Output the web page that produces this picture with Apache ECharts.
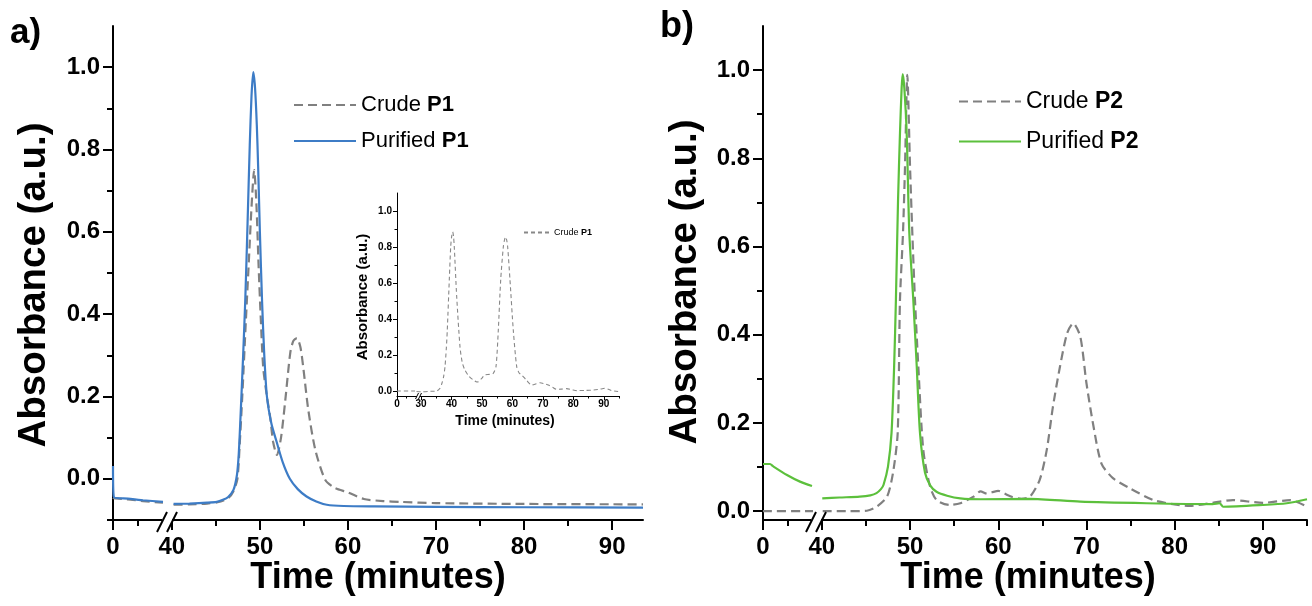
<!DOCTYPE html>
<html>
<head>
<meta charset="utf-8">
<script src="https://cdn.jsdelivr.net/npm/echarts@6.0.0/dist/echarts.min.js"></script>
<style>html,body{margin:0;padding:0;background:#fff}#c{width:1312px;height:606px}</style>
</head>
<body>
<div id="c"></div>
<script>
// ---------------- DATA (time in minutes, absorbance in a.u.) ----------------
const crudeP1 = [[0,-0.046],[0.08,-0.047],[1.5,-0.05],[3,-0.054],[5,-0.058],
 [40.2,-0.063],[42,-0.062],[44,-0.06],[45.2,-0.057],[46.4,-0.047],[47.0,-0.03],[47.45,0.0],[47.7,0.08],[48.0,0.2],[48.4,0.38],[48.75,0.53],[49.05,0.66],[49.35,0.75],[49.6,0.67],[49.85,0.52],[50.1,0.39],[50.38,0.27],[50.8,0.2],[51.17,0.15],[51.5,0.09],[51.94,0.058],[52.4,0.1],[52.88,0.19],[53.45,0.306],[53.8,0.335],[54.2,0.342],[54.6,0.32],[54.93,0.27],[55.5,0.167],[56.3,0.07],[57.43,-0.003],[58.5,-0.022],[60,-0.033],[61.8,-0.049],[64,-0.054],[66,-0.056],[70,-0.059],[80,-0.061],[93.5,-0.062]];
const purifiedP1 = [[0,0.031],[0.08,-0.044],[1.5,-0.048],[3,-0.052],[5,-0.056],
 [40.2,-0.061],[42,-0.06],[44,-0.058],[45.1,-0.056],[45.8,-0.051],[46.4,-0.044],[47.0,-0.027],[47.4,0.01],[47.6,0.06],[47.8,0.15],[48.1,0.3],[48.35,0.44],[48.6,0.62],[48.85,0.81],[49.05,0.93],[49.25,0.988],[49.45,0.95],[49.65,0.86],[49.8,0.76],[50.0,0.6],[50.25,0.43],[50.5,0.3],[50.8,0.2],[51.3,0.135],[51.9,0.09],[52.6,0.04],[53.4,0.0],[54.3,-0.025],[55.3,-0.043],[56.4,-0.055],[57.6,-0.063],[59.5,-0.066],[63,-0.067],[70,-0.068],[80,-0.069],[93.5,-0.07]];
const crudeP2 = [[0,0.0],[5,0.0],
 [40.1,0.0],[43,0.0],[45.1,0.001],[46.2,0.01],[47.4,0.033],[48.07,0.087],[48.6,0.177],[48.86,0.479],[49.2,0.63],[49.43,0.781],[49.69,0.989],[50.0,0.781],[50.26,0.63],[50.56,0.479],[50.94,0.328],[51.5,0.139],[52.27,0.056],[53.02,0.025],[54.5,0.014],[55.7,0.018],[57.2,0.033],[58.0,0.045],[58.7,0.04],[59.3,0.043],[60,0.046],[60.7,0.04],[61.6,0.032],[62.6,0.028],[63.6,0.033],[64.7,0.071],[65.5,0.139],[66.2,0.237],[67.0,0.328],[67.8,0.403],[68.5,0.426],[69.3,0.396],[70.0,0.29],[70.8,0.192],[71.7,0.108],[73.0,0.075],[74.9,0.052],[77.6,0.025],[79.8,0.016],[81.7,0.012],[84.3,0.019],[86.6,0.025],[90,0.019],[93.1,0.025],[95,0.01]];
const purifiedP2 = [[0,0.107],[0.7,0.107],[1.0,0.102],[2.4,0.082],[3.7,0.067],[4.9,0.057],
 [40.05,0.029],[42,0.031],[44.3,0.033],[45.5,0.036],[46.2,0.041],[46.7,0.05],[47.0,0.06],[47.5,0.101],[47.9,0.177],[48.2,0.33],[48.4,0.48],[48.64,0.705],[48.86,0.857],[49.05,0.96],[49.17,0.991],[49.35,0.96],[49.62,0.857],[49.92,0.63],[50.37,0.479],[50.76,0.328],[51.13,0.177],[51.7,0.087],[52.3,0.058],[53.0,0.044],[54.2,0.035],[55.7,0.029],[58,0.027],[63.6,0.028],[69.3,0.0215],[76.8,0.018],[84.3,0.016],[85.1,0.018],[85.5,0.010],[90,0.014],[92.7,0.018],[95,0.027]];
const crudeP1Inset = [[0,0],[6,0],
 [28.5,-0.003],[30.2,-0.005],[33,-0.002],[35.1,0.0],[36.2,0.015],[36.8,0.04],[37.4,0.08],[37.85,0.135],[38.3,0.24],[38.6,0.337],[39.26,0.616],[39.72,0.8],[40.05,0.86],[40.38,0.884],[40.65,0.86],[40.9,0.8],[41.7,0.523],[42.78,0.245],[43.5,0.16],[44.4,0.116],[45.8,0.08],[47.15,0.061],[48.3,0.05],[48.8,0.051],[49.9,0.07],[50.99,0.089],[52.5,0.092],[53.7,0.098],[54.6,0.135],[55.36,0.338],[56.14,0.616],[57.0,0.8],[57.4,0.84],[57.79,0.856],[58.1,0.84],[58.44,0.8],[59.2,0.616],[60.28,0.338],[61.4,0.135],[62.2,0.1],[63.04,0.089],[64.6,0.06],[66.3,0.033],[67.8,0.04],[69.05,0.046],[70.5,0.04],[71.78,0.033],[73.2,0.02],[74.5,0.009],[76,0.01],[77.8,0.013],[79.5,0.007],[81.1,0.002],[84,0.003],[86.55,0.005],[88.5,0.009],[90.4,0.015],[91.5,0.01],[92.6,0.002],[95,-0.004]];

// tick values
const xMajorTicks = [0,30,40,50,60,70,80,90];
const xMinorMain = [2.5,45,55,65,75,85,95];
const xMinorInset = [3,35,45,55,65,75,85,95];
const yMajorTicks = [0,0.2,0.4,0.6,0.8,1.0];
const yMinorTicks = [-0.1,0.1,0.3,0.5,0.7,0.9];

// text
const seriesLabels = {
  'Crude P1': ['Crude ', 'P1'], 'Purified P1': ['Purified ', 'P1'],
  'Crude P2': ['Crude ', 'P2'], 'Purified P2': ['Purified ', 'P2'],
  'Crude P1 (inset)': ['Crude ', 'P1']
};
const xTitle = 'Time (minutes)';
const yTitle = 'Absorbance (a.u.)';

// ---------------- CHART ----------------
const FONT = '"Liberation Sans", Arial, Helvetica, sans-serif';
const GRAY = '#808080', BLUE = '#3d7cc6', GREEN = '#5cc03c';
function inRange(arr, lo, hi){ return arr.filter(v => v >= lo - 1e-9 && v <= hi + 1e-9); }

const option = {animation:false, backgroundColor:'#fff', grid:[], xAxis:[], yAxis:[], series:[], legend:[], graphic:[]};

function addPanel(cfg){
  const h = cfg.axisY - cfg.top;
  const segs = [
    {left: cfg.x0, width: cfg.xBreak - cfg.x0, min: 0, max: cfg.leftMax, first: true},
    {left: cfg.xBreak, width: cfg.x1 - cfg.xBreak, min: cfg.rightMin, max: cfg.rightMax, first: false}
  ];
  segs.forEach(seg => {
    const gi = option.grid.length;
    option.grid.push({left: seg.left, top: cfg.top, width: seg.width, height: h, containLabel: false, outerBoundsMode: 'none', show: false});
    const ls = {color: '#000', width: cfg.lw};
    const xi = option.xAxis.length;
    const majors = inRange(xMajorTicks, seg.min, seg.max);
    option.xAxis.push({gridIndex: gi, type: 'value', min: seg.min, max: seg.max, position: 'bottom',
      axisLine: {show: true, onZero: false, lineStyle: ls},
      axisTick: {show: true, inside: false, length: cfg.tick, lineStyle: ls, customValues: majors},
      axisLabel: {show: true, customValues: majors, margin: cfg.xMargin, fontSize: cfg.fs, fontWeight: 'bold', fontFamily: FONT, color: '#000', formatter: v => String(v)},
      splitLine: {show: false}});
    option.xAxis.push({gridIndex: gi, type: 'value', min: seg.min, max: seg.max, position: 'bottom',
      axisLine: {show: false, onZero: false},
      axisTick: {show: true, inside: false, length: cfg.minorTick, lineStyle: ls, customValues: inRange(cfg.xMinor, seg.min, seg.max)},
      axisLabel: {show: false}, splitLine: {show: false}});
    const yi = option.yAxis.length;
    if (seg.first) {
      option.yAxis.push({gridIndex: gi, type: 'value', min: cfg.yMin, max: cfg.yMax, position: 'left',
        axisLine: {show: true, onZero: false, lineStyle: ls},
        axisTick: {show: true, inside: false, length: cfg.tick, lineStyle: ls, customValues: yMajorTicks},
        axisLabel: {show: true, customValues: yMajorTicks, margin: cfg.yMargin, fontSize: cfg.fs, fontWeight: 'bold', fontFamily: FONT, color: '#000', formatter: v => v.toFixed(1)},
        splitLine: {show: false}});
      option.yAxis.push({gridIndex: gi, type: 'value', min: cfg.yMin, max: cfg.yMax, position: 'left',
        axisLine: {show: false, onZero: false},
        axisTick: {show: true, inside: false, length: cfg.minorTick, lineStyle: ls, customValues: inRange(yMinorTicks, cfg.yMin, cfg.yMax)},
        axisLabel: {show: false}, splitLine: {show: false}});
    } else {
      option.yAxis.push({gridIndex: gi, type: 'value', min: cfg.yMin, max: cfg.yMax, show: false, splitLine: {show: false}});
    }
    cfg.curves.forEach(c => {
      const pts = c.data.filter(d => seg.first ? d[0] <= cfg.leftMax : d[0] >= cfg.rightMin);
      option.series.push({type: 'line', name: c.name, xAxisIndex: xi, yAxisIndex: yi, data: pts,
        symbol: 'none', showSymbol: false, smooth: 0.25, z: c.z, silent: true,
        lineStyle: {color: c.color, width: c.width, type: c.dash}, itemStyle: {color: c.color},
        emphasis: {disabled: true}});
    });
  });
  // break marks
  cfg.breaks.forEach(b => {
    option.graphic.push({type: 'rect', z: 100, shape: {x: b.x1, y: cfg.axisY - cfg.lw, width: b.x2 - b.x1, height: cfg.lw * 2}, style: {fill: '#fff'}});
    [b.x1, b.x2].forEach(cx => option.graphic.push({type: 'line', z: 101,
      shape: {x1: cx - b.dx, y1: cfg.axisY + b.dyDown, x2: cx + b.dx, y2: cfg.axisY - b.dyUp},
      style: {stroke: '#000', lineWidth: cfg.lw}}));
  });
}

// Panel a
addPanel({x0: 113, xBreak: 163, x1: 643, top: 26, axisY: 520, leftMax: 5, rightMin: 39, rightMax: 93.5,
  yMin: -0.1, yMax: 1.1, xMinor: xMinorMain, lw: 2, tick: 10, minorTick: 6, fs: 24, xMargin: 15, yMargin: 13,
  breaks: [{x1: 162, x2: 172, dx: 5, dyDown: 12, dyUp: 8}],
  curves: [
    {name: 'Crude P1', data: crudeP1, color: GRAY, width: 2.2, dash: [9, 5], z: 2},
    {name: 'Purified P1', data: purifiedP1, color: BLUE, width: 2.2, dash: 'solid', z: 3}
  ]});
// Panel b
addPanel({x0: 763, xBreak: 813, x1: 1307, top: 26, axisY: 520, leftMax: 5, rightMin: 39, rightMax: 95,
  yMin: -0.02, yMax: 1.1, xMinor: xMinorMain, lw: 2, tick: 10, minorTick: 6, fs: 24, xMargin: 15, yMargin: 13,
  breaks: [{x1: 811, x2: 821, dx: 5, dyDown: 12, dyUp: 8}],
  curves: [
    {name: 'Crude P2', data: crudeP2, color: GRAY, width: 2.2, dash: [9, 5], z: 2},
    {name: 'Purified P2', data: purifiedP2, color: GREEN, width: 2.2, dash: 'solid', z: 3}
  ]});
// Inset
addPanel({x0: 397, xBreak: 415, x1: 619, top: 193, axisY: 396, leftMax: 6, rightMin: 28, rightMax: 95,
  yMin: -0.028, yMax: 1.1, xMinor: xMinorInset, lw: 1, tick: 4, minorTick: 2.5, fs: 10, xMargin: 3, yMargin: 5,
  breaks: [{x1: 417, x2: 420, dx: 1.5, dyDown: 3, dyUp: 3}],
  curves: [
    {name: 'Crude P1 (inset)', data: crudeP1Inset, color: '#888', width: 1.1, dash: [4, 3], z: 2}
  ]});

function fmt(name){ const p = seriesLabels[name]; return '{n|' + p[0] + '}{b|' + p[1] + '}'; }
function richText(fs, lh){ return {color: '#000', fontFamily: FONT, fontSize: fs, rich: {
  n: {fontSize: fs, fontFamily: FONT, color: '#000', lineHeight: lh},
  b: {fontSize: fs, fontFamily: FONT, color: '#000', fontWeight: 'bold', lineHeight: lh}}}; }
const hideSymbol = {opacity: 0};
option.legend.push({left: 288, top: 89, orient: 'vertical', itemWidth: 62, itemHeight: 14, itemGap: 14,
  selectedMode: false, data: ['Crude P1', 'Purified P1'], formatter: fmt, textStyle: richText(22, 26), itemStyle: hideSymbol});
option.legend.push({left: 953, top: 85, orient: 'vertical', itemWidth: 62, itemHeight: 14, itemGap: 17,
  selectedMode: false, data: ['Crude P2', 'Purified P2'], formatter: fmt, textStyle: richText(23, 26), itemStyle: hideSymbol});
option.legend.push({left: 518, top: 223, orient: 'vertical', itemWidth: 25, itemHeight: 8, itemGap: 4,
  selectedMode: false, data: ['Crude P1 (inset)'], formatter: fmt, textStyle: richText(9, 12), itemStyle: hideSymbol});

function txt(x, y, s, size, rot, align){
  return {type: 'text', x: x, y: y, rotation: rot || 0, z: 100,
    style: {text: s, fill: '#000', fontSize: size, fontWeight: 'bold', fontFamily: FONT,
      textAlign: align || 'center', textVerticalAlign: 'middle'}};
}
option.graphic.push(txt(10, 33, 'a)', 35, 0, 'left'));
option.graphic.push(txt(660, 27, 'b)', 36, 0, 'left'));
option.graphic.push(txt(378, 578, xTitle, 36));
option.graphic.push(txt(1028, 578, xTitle, 36));
option.graphic.push(txt(34, 285, yTitle, 38.5, Math.PI / 2));
option.graphic.push(txt(685, 282, yTitle, 38.5, Math.PI / 2));
option.graphic.push(txt(505, 421, xTitle, 14));
option.graphic.push(txt(363, 297, yTitle, 15, Math.PI / 2));

const chart = echarts.init(document.getElementById('c'), null, {renderer: 'canvas'});
chart.setOption(option);
</script>
</body>
</html>
